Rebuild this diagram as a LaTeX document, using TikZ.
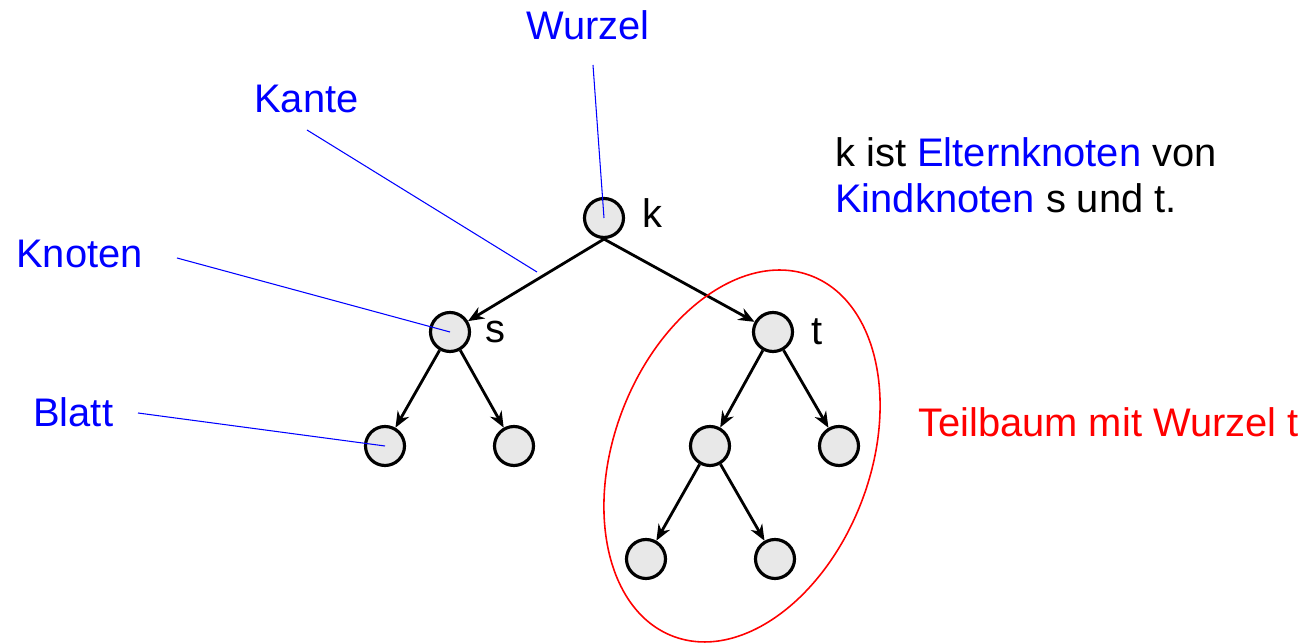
\documentclass[tikz,border=0pt]{standalone}
\usepackage{fontspec}
\setmainfont{Liberation Sans}
\usepackage{xcolor}
\usetikzlibrary{arrows.meta}
\definecolor{knotengrau}{RGB}{232,232,232}

\begin{document}
\begin{tikzpicture}[x=0.02cm, y=-0.02cm,
    every node/.style={font=\fontsize{22.7}{27}\selectfont, inner sep=0pt},
    knoten/.style={circle, draw, line width=1.8pt, fill=knotengrau, minimum size=0.78cm},
    kante/.style={line width=1.6pt, -{Stealth[length=0.32cm, width=0.26cm]}},
    hinweis/.style={blue, line width=0.6pt}]
    \useasboundingbox (0,0) rectangle (1303,644);

    \node[knoten] (k) at (604,218) {};
    \node[knoten] (s) at (450,332) {};
    \node[knoten] (t) at (773,332) {};
    \node[knoten] (s1) at (385,446) {};
    \node[knoten] (s2) at (514,446) {};
    \node[knoten] (t1) at (710,446) {};
    \node[knoten] (t2) at (839,446) {};
    \node[knoten] (t11) at (646,559) {};
    \node[knoten] (t12) at (775,559) {};

    \draw[kante] (k.south) -- (s);
    \draw[kante] (k.south) -- (t);
    \draw[kante] (s) -- (s1);
    \draw[kante] (s) -- (s2);
    \draw[kante] (t) -- (t1);
    \draw[kante] (t) -- (t2);
    \draw[kante] (t1) -- (t11);
    \draw[kante] (t1) -- (t12);

    \node[anchor=base west] (lk) at (642,228) {k};
    \node[anchor=base west] (ls) at (485,343) {s};
    \node[anchor=base west] (lt) at (811,345) {t};

    \node[anchor=base west, blue] (wurzel) at (526,40) {Wurzel};
    \node[anchor=base west, blue] (kante) at (254,113) {Kante};
    \node[anchor=base west, blue] (knotenl) at (16,268) {Knoten};
    \node[anchor=base west, blue] (blatt) at (33,427) {Blatt};

    \coordinate (wa) at (593,65);
    \coordinate (ka) at (307,130);
    \coordinate (ke) at (537,272);
    \coordinate (kna) at (177,258);
    \coordinate (ba) at (138,413);
    \draw[hinweis] (wa) -- (k.center);
    \draw[hinweis] (ka) -- (ke);
    \draw[hinweis] (kna) -- (s.center);
    \draw[hinweis] (ba) -- (s1.center);

    \node[anchor=base west] (eltern) at (835,167) {k ist \textcolor{blue}{Elternknoten} von};
    \node[anchor=base west] (kind) at (835,213) {\textcolor{blue}{Kindknoten} s und t.};

    \draw[red, line width=0.9pt, rotate around={-21:(742,456)}] (742,456) ellipse [x radius=128, y radius=193];
    \node[anchor=base west, red] (teilbaum) at (918,437) {Teilbaum mit Wurzel t};
\end{tikzpicture}
\end{document}
